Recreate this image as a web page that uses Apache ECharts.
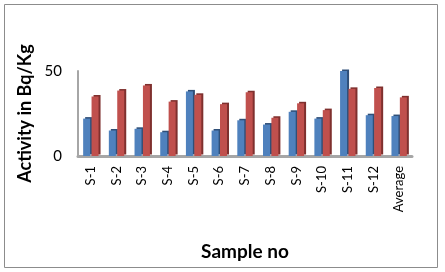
<!DOCTYPE html>
<html>
<head>
<meta charset="utf-8">
<script src="https://cdn.jsdelivr.net/npm/echarts@6/dist/echarts.min.js"></script>
<style>
  html, body { margin: 0; padding: 0; background: #fff; }
  #chart { width: 445px; height: 272px; }
</style>
</head>
<body>
<div id="chart"></div>
<script>
// samples and activity values
var samples = ['S-1', 'S-2', 'S-3', 'S-4', 'S-5', 'S-6', 'S-7', 'S-8', 'S-9', 'S-10', 'S-11', 'S-12', 'Average'];
var blueValues = [22, 15, 16, 14, 38, 15, 21, 18.5, 26, 22, 50, 24, 23.5];
var redValues = [35, 38.5, 41.5, 32, 36, 30.5, 37.5, 22.5, 31, 27, 39.5, 40, 34.5];
var yTicks = [0, 50];

(function () {
    var myChart = echarts.init(document.getElementById('chart'));
    var font = 'Lato, "Open Sans", sans-serif';
    var option = {
        animation: false,
        graphic: [{
            type: 'rect',
            shape: { x: 4.5, y: 4.5, width: 433, height: 263 },
            style: { fill: 'none', stroke: '#8c8c8c', lineWidth: 1 }
        }],
        grid: { left: 78, right: 33, top: 71, bottom: 116 },
        xAxis: {
            type: 'category',
            data: samples,
            name: 'Sample no',
            nameLocation: 'middle',
            nameGap: 86,
            nameTextStyle: { fontFamily: font, fontWeight: 'bold', fontSize: 19, color: '#000' },
            axisLine: { lineStyle: { color: '#a6a6a6', width: 3 } },
            axisTick: { show: false },
            axisLabel: { rotate: 90, interval: 0, margin: 10, fontFamily: font, fontSize: 13, color: '#000' }
        },
        yAxis: {
            type: 'value',
            min: 0,
            max: 50,
            interval: 50,
            name: 'Activity in Bq/Kg',
            nameLocation: 'middle',
            nameGap: 43,
            nameTextStyle: { fontFamily: font, fontWeight: 'bold', fontSize: 18, color: '#000' },
            axisLine: { show: true, lineStyle: { color: '#a6a6a6', width: 2 } },
            axisTick: { show: false },
            splitLine: { show: false },
            axisLabel: {
                margin: 16, fontFamily: font, fontSize: 15, color: '#000',
                formatter: function (v) { return yTicks.indexOf(v) >= 0 ? v : ''; }
            }
        },
        series: [
            {
                type: 'bar',
                data: blueValues,
                barWidth: 7,
                barGap: '20%',
                itemStyle: {
                    color: '#4f81bd',
                    shadowColor: '#2f4f78',
                    shadowOffsetX: 2,
                    shadowOffsetY: -1.5,
                    shadowBlur: 0
                }
            },
            {
                type: 'bar',
                data: redValues,
                barWidth: 7,
                itemStyle: {
                    color: '#c0504d',
                    shadowColor: '#7f302e',
                    shadowOffsetX: 2,
                    shadowOffsetY: -1.5,
                    shadowBlur: 0
                }
            }
        ]
    };
    myChart.setOption(option);
})();
</script>
</body>
</html>
